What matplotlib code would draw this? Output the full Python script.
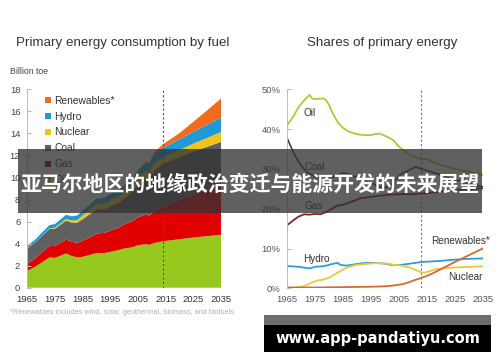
import matplotlib
matplotlib.use("Agg")
import matplotlib.pyplot as plt
from matplotlib.patches import Rectangle, Patch

# ---------------- data: left chart (billion toe) ----------------
years_l = [1965, 1968, 1970, 1973, 1975, 1979, 1981, 1983, 1985, 1988, 1990, 1993,
           1995, 1998, 2000, 2003, 2005, 2008, 2009, 2011, 2014, 2020, 2025, 2030, 2035]
oil = [1.53, 1.92, 2.25, 2.75, 2.70, 3.11, 2.88, 2.76, 2.80, 3.00, 3.15, 3.15,
       3.25, 3.42, 3.55, 3.67, 3.86, 3.95, 3.88, 4.06, 4.21, 4.40, 4.55, 4.68, 4.80]
gas = [0.63, 0.78, 0.89, 1.03, 1.08, 1.26, 1.28, 1.31, 1.45, 1.62, 1.77, 1.83,
       1.92, 2.02, 2.18, 2.36, 2.51, 2.71, 2.66, 2.92, 3.15, 3.55, 3.90, 4.25, 4.60]
coal = [1.41, 1.45, 1.49, 1.55, 1.57, 1.72, 1.75, 1.83, 1.97, 2.13, 2.20, 2.15,
        2.22, 2.25, 2.36, 2.70, 2.96, 3.33, 3.30, 3.72, 3.88, 3.92, 3.90, 3.86, 3.82]
nuclear = [0.01, 0.01, 0.02, 0.05, 0.09, 0.15, 0.19, 0.23, 0.33, 0.42, 0.45, 0.50,
           0.53, 0.56, 0.58, 0.60, 0.63, 0.62, 0.61, 0.60, 0.57, 0.63, 0.72, 0.80, 0.90]
hydro = [0.21, 0.24, 0.27, 0.30, 0.33, 0.37, 0.38, 0.41, 0.43, 0.46, 0.49, 0.53,
         0.56, 0.58, 0.60, 0.61, 0.66, 0.72, 0.74, 0.80, 0.88, 0.97, 1.08, 1.20, 1.30]
renew = [0.00, 0.00, 0.00, 0.00, 0.01, 0.01, 0.01, 0.01, 0.02, 0.02, 0.03, 0.03,
         0.04, 0.04, 0.05, 0.06, 0.08, 0.12, 0.14, 0.20, 0.32, 0.55, 0.90, 1.30, 1.75]
fuel_names = ["Oil", "Gas", "Coal", "Nuclear", "Hydro", "Renewables*"]
fuel_colors = ["#96C81E", "#E00000", "#606060", "#F0C419", "#1F9AD6", "#F26B1D"]
legend_colors = ["#96C81E", "#8B0000", "#606060", "#F0C419", "#1F9AD6", "#F26B1D"]

# ---------------- data: right chart (shares, %) ----------------
oil_y = [1965, 1967, 1969, 1971, 1973, 1974, 1976, 1978, 1979, 1980, 1981, 1983, 1985,
         1987, 1989, 1991, 1993, 1995, 1996, 1998, 1999, 2001, 2003, 2005, 2007, 2009,
         2011, 2013, 2015, 2017, 2020, 2025, 2030, 2035]
oil_s = [41.0, 43.0, 45.5, 47.2, 48.6, 47.6, 47.6, 47.7, 47.2, 46.0, 44.3, 41.8, 40.3,
         39.4, 38.9, 38.6, 38.5, 38.5, 38.7, 38.9, 38.6, 38.0, 37.2, 35.6, 34.5, 33.5,
         33.0, 32.4, 32.5, 31.8, 31.0, 30.0, 29.2, 28.5]
coal_y = [1965, 1966, 1968, 1970, 1972, 1975, 1978, 1980, 1982, 1985, 1988, 1990, 1993,
          1995, 1998, 2000, 2002, 2004, 2006, 2008, 2011, 2013, 2015, 2020, 2025, 2030, 2035]
coal_s = [37.7, 36.0, 33.0, 30.8, 29.2, 28.0, 27.5, 27.5, 28.2, 29.0, 28.5, 27.8, 27.0,
          26.5, 25.5, 25.3, 25.8, 27.5, 28.8, 29.5, 30.5, 30.0, 29.6, 28.5, 27.3, 26.3, 25.5]
gas_y = [1965, 1967, 1969, 1971, 1973, 1975, 1977, 1979, 1981, 1983, 1985, 1987, 1989,
         1991, 1993, 1995, 1997, 1999, 2001, 2003, 2005, 2007, 2009, 2011, 2013, 2020,
         2025, 2030, 2035]
gas_s = [15.9, 17.0, 18.0, 18.6, 18.5, 18.7, 18.6, 19.2, 20.0, 20.8, 21.0, 21.5, 22.0,
         22.6, 22.8, 23.0, 23.2, 23.3, 23.5, 23.6, 23.6, 23.7, 23.6, 23.7, 23.8, 24.3,
         24.6, 24.9, 25.1]
hydro_y = [1965, 1967, 1969, 1971, 1973, 1975, 1977, 1979, 1981, 1983, 1984, 1986, 1988,
           1990, 1992, 1994, 1996, 1998, 2000, 2002, 2004, 2006, 2008, 2010, 2013, 2020,
           2025, 2030, 2035]
hydro_s = [5.6, 5.5, 5.4, 5.2, 5.0, 5.4, 5.5, 5.7, 6.1, 6.4, 5.9, 5.7, 5.9,
           6.1, 6.3, 6.4, 6.4, 6.3, 6.2, 5.9, 5.8, 5.9, 6.1, 6.3, 6.6, 6.9,
           7.2, 7.4, 7.5]
nuc_y = [1965, 1968, 1970, 1972, 1974, 1976, 1978, 1980, 1982, 1984, 1986, 1988, 1990,
         1993, 1996, 1999, 2001, 2003, 2005, 2007, 2009, 2011, 2013, 2014, 2016, 2018,
         2022, 2027, 2035]
nuc_s = [0.1, 0.2, 0.4, 0.8, 1.5, 2.0, 2.2, 2.7, 3.5, 4.3, 5.1, 5.6, 5.9,
         6.1, 6.3, 6.3, 6.2, 5.9, 5.8, 5.5, 5.2, 4.6, 4.0, 3.9, 4.3, 4.8,
         5.1, 5.3, 5.5]
ren_y = [1965, 1975, 1985, 1995, 2000, 2003, 2006, 2008, 2010, 2013, 2016, 2020, 2025,
         2030, 2035]
ren_s = [0.2, 0.2, 0.3, 0.4, 0.5, 0.7, 1.0, 1.4, 1.9, 2.6, 3.4, 4.8, 6.6, 8.3, 10.0]

x_ticks = [1965, 1975, 1985, 1995, 2005, 2015, 2025, 2035]
left_yticks = [0, 2, 4, 6, 8, 10, 12, 14, 16, 18]
right_yticks = [0, 10, 20, 30, 40, 50]
right_ylabels = ["0%", "10%", "20%", "30%", "40%", "50%"]

banner_text = "亚马尔地区的地缘政治变迁与能源开发的未来展望"
watermark_text = "www.app-pandatiyu.com"

# ---------------- figure ----------------
W, H = 500, 362
fig = plt.figure(figsize=(5, 3.62), dpi=100)
plt.rcParams['font.family'] = ['Liberation Sans', 'DejaVu Sans']

def fx(px):
    return px / W

def fy(py):
    return 1 - py / H

# left axes
axL = fig.add_axes([fx(27.3), fy(287.7), fx(221 - 27.3), (287.7 - 89.3) / H])
axL.stackplot(years_l, oil, gas, coal, nuclear, hydro, renew,
              colors=fuel_colors, linewidth=0)
axL.set_xlim(1965, 2035)
axL.set_ylim(0, 18)
axL.axvline(2014, color="#555555", lw=0.8, ls=(0, (2, 2)), zorder=5)
for s in ["top", "right", "bottom"]:
    axL.spines[s].set_visible(False)
axL.spines["left"].set_color("#bbbbbb")
axL.spines["left"].set_linewidth(0.7)
axL.set_yticks(left_yticks)
axL.set_xticks(x_ticks)
axL.tick_params(axis="y", direction="in", length=3, color="#bbbbbb",
                labelsize=6.8, labelcolor="#444444", pad=5)
axL.tick_params(axis="x", length=0, labelsize=6.8, labelcolor="#333333", pad=5)
handles = [Patch(facecolor=c, edgecolor="none") for c in legend_colors][::-1]
axL.legend(handles, fuel_names[::-1], loc="upper left", bbox_to_anchor=(0.045, 1.015),
           frameon=False, fontsize=7.4, handlelength=0.55, handleheight=0.55,
           handletextpad=0.35, labelspacing=0.58, labelcolor="#333333")

# right axes
axR = fig.add_axes([fx(287.3), fy(288.3), fx(482.7 - 287.3), (288.3 - 89.3) / H])
axR.plot(oil_y, oil_s, color="#AFC93A", lw=1.3)
axR.plot(coal_y, coal_s, color="#333333", lw=1.1)
axR.plot(gas_y, gas_s, color="#8B2020", lw=1.3)
axR.plot(hydro_y, hydro_s, color="#2A9FD0", lw=1.3)
axR.plot(nuc_y, nuc_s, color="#EBC83C", lw=1.3)
axR.plot(ren_y, ren_s, color="#D9692B", lw=1.3)
axR.set_xlim(1965, 2035)
axR.set_ylim(0, 50)
axR.axvline(2013, color="#777777", lw=0.8, ls=(0, (2, 2)), zorder=0)
for s in ["top", "right", "bottom"]:
    axR.spines[s].set_visible(False)
axR.spines["left"].set_color("#bbbbbb")
axR.spines["left"].set_linewidth(0.7)
axR.set_yticks(right_yticks)
axR.set_yticklabels(right_ylabels)
axR.set_xticks(x_ticks)
axR.tick_params(axis="y", direction="in", length=3, color="#bbbbbb",
                labelsize=6.8, labelcolor="#555555", pad=5)
axR.tick_params(axis="x", length=0, labelsize=6.8, labelcolor="#555555", pad=5)
lab_kw = dict(fontsize=7.2, color="#333333", ha="center", va="center")
axR.text(1973.1, 44.0, "Oil", **lab_kw)
axR.text(1974.9, 30.4, "Coal", **lab_kw)
axR.text(1974.3, 20.8, "Gas", **lab_kw)
axR.text(1975.5, 7.4, "Hydro", **lab_kw)
axR.text(2027.2, 11.9, "Renewables*", **lab_kw)
axR.text(2028.6, 2.8, "Nuclear", **lab_kw)

# titles and notes
fig.text(fx(16), fy(43), "Primary energy consumption by fuel", fontsize=9.6,
         color="#333333", va="center", ha="left")
fig.text(fx(382), fy(43), "Shares of primary energy", fontsize=9.6,
         color="#333333", va="center", ha="center")
fig.text(fx(10), fy(72), "Billion toe", fontsize=6.3, color="#444444", va="center")
fig.text(fx(10), fy(313), "*Renewables includes wind, solar, geothermal, biomass, and biofuels",
         fontsize=5.3, color="#b0b0b0", va="center")

# banner overlay
fig.patches.append(Rectangle((fx(18), fy(213)), fx(482 - 18), (213 - 149) / H,
                             transform=fig.transFigure, facecolor="#333333",
                             alpha=0.78, edgecolor="none", zorder=10))
fig.text(fx(20), fy(184), banner_text, fontsize=15, fontweight="bold", color="white",
         va="center", ha="left", family=["Noto Sans CJK SC", "DejaVu Sans"], zorder=11)

# watermark
fig.patches.append(Rectangle((fx(264), fy(325)), fx(491 - 264), 10 / H,
                             transform=fig.transFigure, facecolor="#6e6e6e",
                             edgecolor="none", zorder=10))
fig.patches.append(Rectangle((fx(264), fy(352)), fx(491 - 264), 27 / H,
                             transform=fig.transFigure, facecolor="black",
                             edgecolor="none", zorder=10))
fig.text(fx(377.5), fy(338.5), watermark_text, fontsize=10.5, fontweight="bold",
         color="white", va="center", ha="center", family=["DejaVu Sans"], zorder=11)

fig.savefig("out.png", dpi=100)
